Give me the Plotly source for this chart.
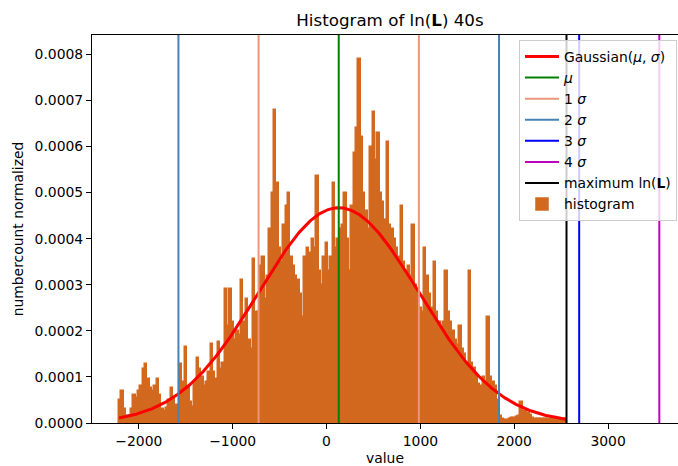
import numpy as np
import plotly.graph_objects as go

# ---- data ----
BIN_START = -2210.0
BIN_WIDTH = 25.0
HIST_HEIGHTS_E5 = [
    5, 7, 3, 1.5, 1.5, 3, 6, 5.5, 7, 8,
    11.8, 12.9, 9.5, 7.5, 7, 8, 9.5, 6, 3, 2.6,
    3.2, 5, 7.5, 5.5, 4, 3.3, 12.7, 9, 16.5, 7.5,
    4.5, 3.5, 9, 14, 11.8, 10, 8, 9, 11, 17.2,
    11, 9.5, 17.6, 11.8, 13, 29, 21, 29, 22, 18,
    20, 19, 31, 22, 27, 18, 16, 35.5, 24, 24,
    34, 36, 27, 32, 42, 50, 68, 52, 38, 35,
    43, 47, 50, 36, 34, 32, 31, 28, 23, 36,
    38, 37, 40, 38, 53.5, 33, 30, 36, 39, 33,
    36, 52, 38, 40, 42, 43, 50, 40, 33, 47,
    58.5, 64, 79, 62, 50, 46, 42, 60, 67.5, 57,
    63, 50, 48, 44, 61, 43, 42, 40, 38, 36,
    47, 35, 33, 34, 32, 43, 30, 28, 25, 24,
    38, 32, 28, 25, 35, 24, 22, 20, 22, 33,
    24, 22, 20, 18, 17, 21, 16, 15, 13, 33,
    13, 12, 10, 8.5, 8, 10, 9, 23, 10, 9,
    8, 5, 1.5, 0.8, 0.7, 0.7, 0.8, 1, 1, 1.2,
    1.5, 4.5, 2.6, 2.5, 2.2, 1.8, 1, 0.9, 0.9, 0.9,
    0.9, 0.9, 0.9, 0.9, 0.8, 0.8, 0.8, 0.8, 0.8, 0.8, 0.8,
]
MU = 130.0
SIGMA = 854.0
MAX_LNL = 2557.0
X_TICKS = [-2000, -1000, 0, 1000, 2000, 3000]
Y_TICKS = [0.0, 0.0001, 0.0002, 0.0003, 0.0004, 0.0005, 0.0006, 0.0007, 0.0008]

# ---- derived ----
heights = np.array(HIST_HEIGHTS_E5) * 1e-5
centers = BIN_START + BIN_WIDTH * (np.arange(len(heights)) + 0.5)
x_lo = BIN_START
x_hi = MAX_LNL
gx = np.linspace(x_lo, x_hi, 400)
gy = np.exp(-0.5 * ((gx - MU) / SIGMA) ** 2) / (SIGMA * np.sqrt(2 * np.pi))

XR = [-2499, 3745]
YR = [0, 0.000842]
FONT = "DejaVu Sans"
HIST_COLOR = "#D2691E"

fig = go.Figure()

fig.add_trace(go.Bar(
    x=centers, y=heights, width=BIN_WIDTH,
    marker=dict(color=HIST_COLOR, line=dict(width=1.5, color=HIST_COLOR)),
    name="histogram", showlegend=True, legendrank=8,
))


def vline(xs, color, name, rank, width=2):
    xx, yy = [], []
    for v in xs:
        xx += [v, v, None]
        yy += [YR[0], YR[1], None]
    fig.add_trace(go.Scatter(
        x=xx, y=yy, mode="lines", line=dict(color=color, width=width),
        name=name, legendrank=rank, hoverinfo="skip",
    ))


fig.add_trace(go.Scatter(
    x=gx, y=gy, mode="lines", line=dict(color="#FF0000", width=3),
    name="Gaussian(<i>μ</i>, <i>σ</i>)", legendrank=1,
))
vline([MU], "#008000", "<i>μ</i>", 2)
vline([MU - SIGMA, MU + SIGMA], "#E9967A", "1 <i>σ</i>", 3)
vline([MU - 2 * SIGMA, MU + 2 * SIGMA], "#4682B4", "2 <i>σ</i>", 4)
vline([MU + 3 * SIGMA], "#0000FF", "3 <i>σ</i>", 5)
vline([MU + 4 * SIGMA], "#BF00BF", "4 <i>σ</i>", 6)
vline([MAX_LNL], "#000000", "maximum ln(<b>L</b>)", 7)

fig.update_layout(
    width=678, height=466,
    margin=dict(l=92, r=0, t=35, b=43),
    paper_bgcolor="white", plot_bgcolor="white",
    font=dict(family=FONT, size=13.9, color="black"),
    bargap=0,
    title=dict(text="Histogram of ln(<b>L</b>) 40s", x=390 / 678, xref="container",
               xanchor="center", y=1 - 20 / 466, yref="container", yanchor="middle",
               font=dict(size=16.7, family=FONT, color="black")),
    showlegend=True,
    legend=dict(
        x=(519 - 92) / 586, y=(423 - 40) / 388, xanchor="left", yanchor="top",
        bgcolor="rgba(255,255,255,0.8)", bordercolor="#CCCCCC", borderwidth=1,
        font=dict(size=13.9, family=FONT), itemwidth=34, traceorder="normal",
        tracegroupgap=0,
    ),
)
fig.update_xaxes(
    range=XR, tickvals=X_TICKS, ticks="outside", ticklen=5, tickcolor="black",
    showline=True, linecolor="black", linewidth=1.1, mirror=True,
    showgrid=False, zeroline=False,
    title=dict(text="value", standoff=6, font=dict(size=13.9)),
)
fig.update_yaxes(
    range=YR, tickvals=Y_TICKS, tickformat=".4f", ticks="outside", ticklen=5,
    tickcolor="black", showline=True, linecolor="black", linewidth=1.1,
    showgrid=False, zeroline=False,
    title=dict(text="numbercount normalized", standoff=7, font=dict(size=13.9)),
)

fig.write_html("out.html")
